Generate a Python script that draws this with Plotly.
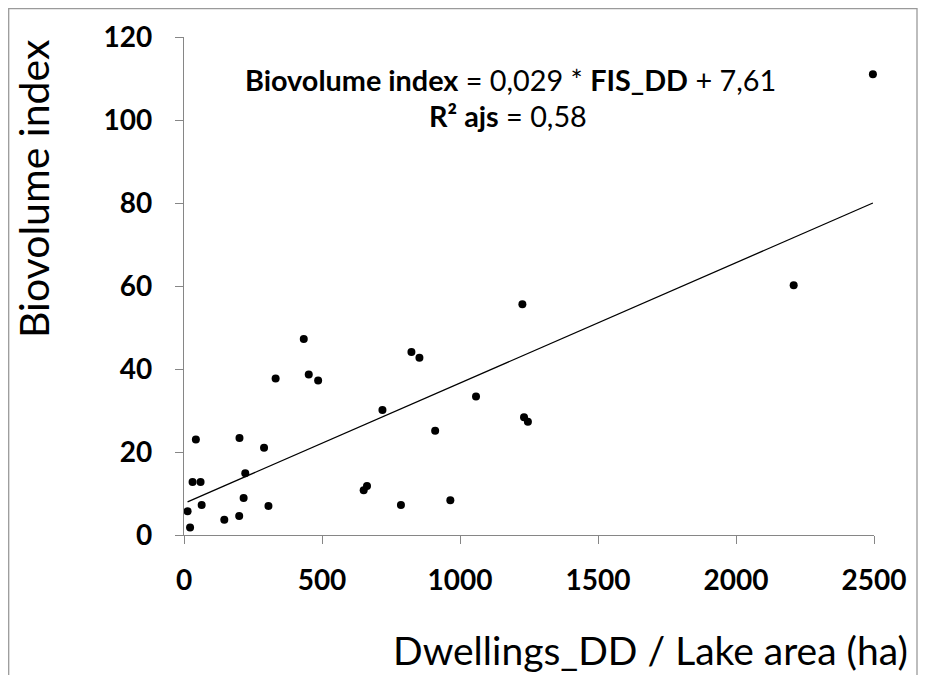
import plotly.graph_objects as go

# Data
dwellings_dd = [13, 22, 43, 31, 60, 64, 146, 200, 201, 216, 222, 290, 306, 332, 434, 452, 486,
                651, 663, 719, 786, 824, 853, 910, 965, 1058, 1226, 1232, 1246, 2209, 2496]
biovolume = [5.7, 1.8, 23.0, 12.8, 12.8, 7.2, 3.7, 4.6, 23.4, 8.9, 14.9, 21.0, 7.0, 37.7, 47.2, 38.7, 37.2,
             10.8, 11.8, 30.1, 7.2, 44.1, 42.7, 25.1, 8.4, 33.4, 55.6, 28.4, 27.3, 60.2, 111.0]

slope = 0.029
intercept = 7.61
x_ticks = [0, 500, 1000, 1500, 2000, 2500]
y_ticks = [0, 20, 40, 60, 80, 100, 120]

FONT = "Lato"
AX = "#868686"

# page body has an 8px margin; plot area should sit at screen x 184..874, y 37..535
OFF = 8
W, H = 910, 667
PL, PR, PT, PB = 184, 874, 37, 535
PW, PH = PR - PL, PB - PT


def px(sx):
    return (sx - PL) / PW


def py(sy):
    return (PB - sy) / PH


line_x = [min(dwellings_dd), max(dwellings_dd)]
line_y = [slope * v + intercept for v in line_x]

fig = go.Figure()
fig.add_trace(go.Scatter(x=line_x, y=line_y, mode="lines",
                         line=dict(color="black", width=1.3), showlegend=False, hoverinfo="skip"))
fig.add_trace(go.Scatter(x=dwellings_dd, y=biovolume, mode="markers",
                         marker=dict(color="black", size=8), showlegend=False, cliponaxis=False))

fig.update_layout(
    width=W, height=H,
    margin=dict(l=PL - OFF, r=W - (PR - OFF), t=PT - OFF, b=H - (PB - OFF)),
    paper_bgcolor="white", plot_bgcolor="white",
    font=dict(family=FONT, color="black"),
    xaxis=dict(range=[0, 2500], tickvals=x_ticks, ticktext=[str(v) for v in x_ticks],
               showgrid=False, zeroline=False, showline=True, linecolor=AX, linewidth=1.3,
               ticks="outside", ticklen=8, tickcolor=AX, tickwidth=1.3,
               tickfont=dict(family=FONT, size=28, color="black", weight="bold"),
               ticklabelstandoff=12),
    yaxis=dict(range=[0, 120], tickvals=y_ticks, ticktext=[str(v) for v in y_ticks],
               showgrid=False, zeroline=False, showline=True, linecolor=AX, linewidth=1.3,
               ticks="outside", ticklen=8, tickcolor=AX, tickwidth=1.3,
               tickfont=dict(family=FONT, size=28, color="black", weight="bold"),
               ticklabelstandoff=17),
    shapes=[dict(type="rect", xref="paper", yref="paper",
                 x0=px(8.7), x1=px(917),
                 y0=py(700), y1=py(8.7),
                 line=dict(color="#9a9a9a", width=1.3), fillcolor="rgba(0,0,0,0)", layer="below")],
    annotations=[
        dict(text="Biovolume index", textangle=-90, xref="paper", yref="paper",
             x=px(33), y=py(189), xanchor="center", yanchor="middle",
             showarrow=False, font=dict(family=FONT, size=41, color="black")),
        dict(text="Dwellings_DD / Lake area (ha)", xref="paper", yref="paper",
             x=px(910), y=py(650), xanchor="right", yanchor="middle",
             showarrow=False, font=dict(family=FONT, size=39, color="black")),
        dict(text="<b>Biovolume index</b> = 0,029 * <b>FIS_DD</b> + 7,61", xref="paper", yref="paper",
             x=px(510), y=py(80), xanchor="center", yanchor="middle",
             showarrow=False, font=dict(family=FONT, size=28.8, color="black")),
        dict(text="<b>R² ajs</b> = 0,58", xref="paper", yref="paper",
             x=px(508), y=py(116), xanchor="center", yanchor="middle",
             showarrow=False, font=dict(family=FONT, size=28.8, color="black")),
    ],
)

fig.write_html("out.html")
